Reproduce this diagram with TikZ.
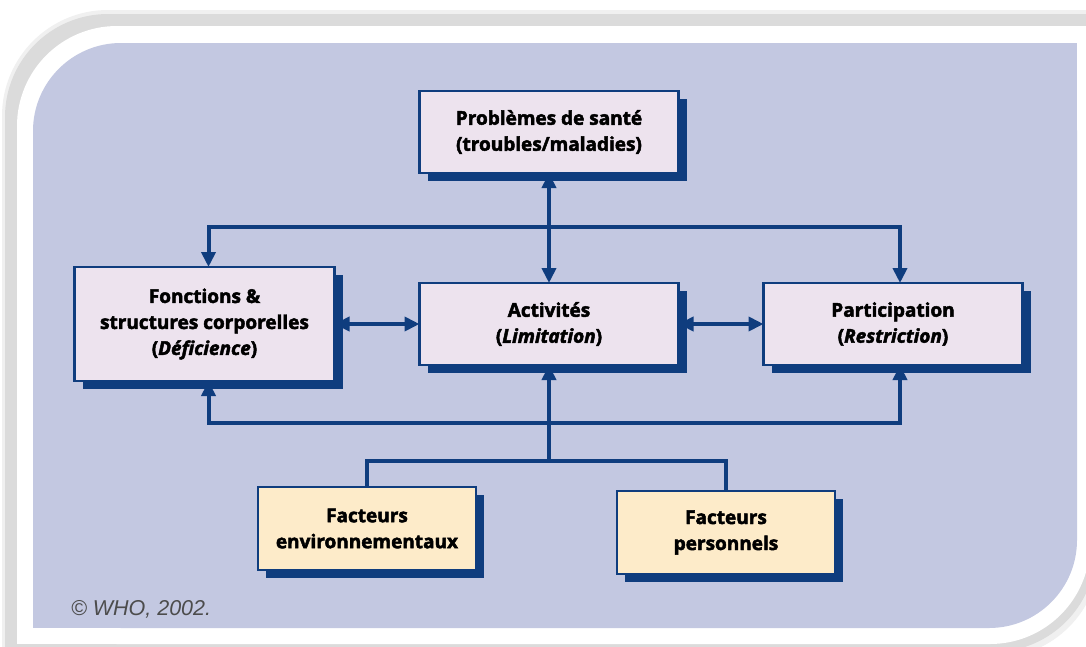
\documentclass[tikz,border=0pt]{standalone}
\usepackage{fontspec}
\setmainfont{Open Sans}[BoldFeatures={FakeBold=2.5}, BoldItalicFeatures={FakeBold=2.5}]
\setsansfont{Liberation Sans}
\usepackage{tikz}
\usetikzlibrary{positioning,shadows,arrows.meta}

\definecolor{panelblue}{HTML}{C3C8E1}
\definecolor{navy}{HTML}{0F3D7E}
\definecolor{boxpink}{HTML}{EDE3EE}
\definecolor{boxcream}{HTML}{FDEBC9}

% rounded top left and bottom right, square elsewhere
\newcommand{\panelshape}[6]{%
  \fill[#1, rounded corners=#6] (#2,#3) rectangle (#4,#5);
  \fill[#1] ({(#2+#4)/2},#3) rectangle (#4,{(#3+#5)/2});
  \fill[#1] (#2,{(#3+#5)/2}) rectangle ({(#2+#4)/2},#5);}

\begin{document}
\begin{tikzpicture}[x=1pt, y=-1pt,
    every node/.style = {outer sep=0pt, align=center},
    comp/.style = {draw=navy, line width=2.5pt, fill=boxpink,
        minimum width=259pt, minimum height=82pt,
        font=\fontsize{19pt}{26pt}\selectfont\bfseries,
        general shadow={fill=navy, shadow xshift=8pt, shadow yshift=-8pt}},
    factor/.style = {comp, fill=boxcream, minimum width=218pt, minimum height=83pt},
    link/.style = {draw=navy, line width=4pt},
    >={Triangle[length=15pt,width=14pt]}]

    \useasboundingbox (0,0) rectangle (1086,646);
    \fill[white] (0,0) rectangle (1086,646);
    \panelshape{black!6}{2}{10}{1100}{658}{106pt}
    \panelshape{black!14}{5}{14}{1096}{652}{103pt}
    \panelshape{white}{17}{26}{1090}{644}{100pt}
    \panelshape{panelblue}{33}{43}{1077}{628}{88pt}

    \node[comp] (act) at (549,324) {Activités\\(\textit{Limitation})};
    \node[comp, above = 110pt of act] (prob) {Problèmes de santé\\(troubles/maladies)};
    \node[comp, left = 85pt of act, minimum width=260pt, minimum height=114pt] (fonc)
        {Fonctions \&\\structures corporelles\\(\textit{Déficience})};
    \node[comp, right = 85pt of act] (part) {Participation\\(\textit{Restriction})};
    \node[factor, below = 122pt of act, xshift=-182pt] (env) {Facteurs\\environnementaux};
    \node[factor, below = 126pt of act, xshift=177pt] (pers) {Facteurs\\personnels};

    \coordinate (upper) at (549,227);
    \coordinate (lower) at (549,423);
    \coordinate (join) at (549,461);

    \draw[link, <->] (prob) -- (act);
    \draw[link, <->] ([xshift=4pt]fonc.north) |- (upper) -| ([xshift=7pt]part.north);
    \draw[link, <->] ([xshift=4pt]fonc.south) |- (lower) -| ([xshift=7pt]part.south);
    \draw[link, <->] (fonc) -- (act);
    \draw[link, <->] (act) -- (part);
    \draw[link, ->] (join) -- (act);
    \draw[link] (env) |- (join) -| (pers);

    \node[anchor=base west, inner sep=0pt, text=black!70,
        font=\sffamily\itshape\fontsize{21.5pt}{21.5pt}\selectfont] (credit) at (71,615) {© WHO, 2002.};
\end{tikzpicture}
\end{document}
